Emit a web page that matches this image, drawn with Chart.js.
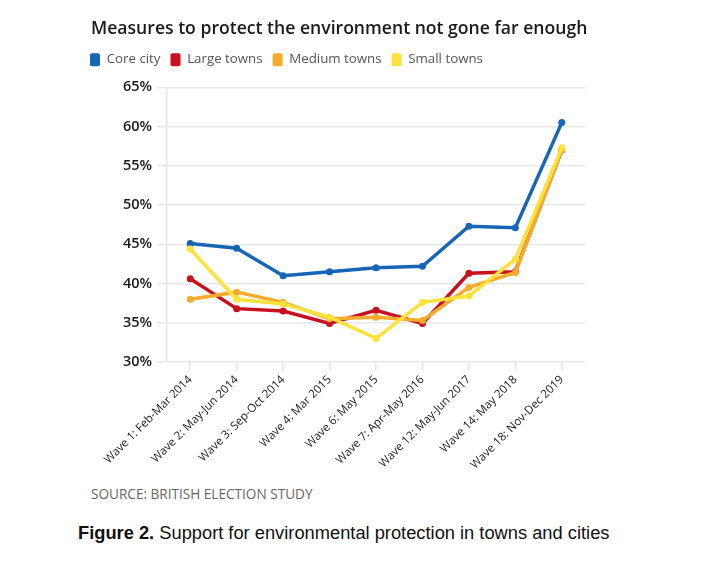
<!DOCTYPE html>
<html>
<head>
<meta charset="utf-8">
<script src="https://cdn.jsdelivr.net/npm/chart.js@4"></script>
<style>
  body { margin: 0; background: #fff; width: 720px; height: 567px; position: relative; overflow: hidden; }
  #wrap { position: absolute; left: 0; top: 0; width: 720px; height: 480px; }
  .title { position: absolute; left: 91px; top: 15px; font: 600 17.6px "Open Sans", sans-serif; color: #1a1a1a; white-space: nowrap; }
  .source { position: absolute; left: 91px; top: 484px; font: 13.6px "Open Sans", sans-serif; color: #666; white-space: nowrap; }
  .caption { position: absolute; left: 78px; top: 522px; font: 18.3px "Liberation Sans", Arial, sans-serif; color: #111; white-space: nowrap; }
</style>
</head>
<body>
<div id="wrap"><canvas id="chart"></canvas></div>
<div class="title">Measures to protect the environment not gone far enough</div>
<div class="source">SOURCE: BRITISH ELECTION STUDY</div>
<div class="caption"><b>Figure 2.</b> Support for environmental protection in towns and cities</div>
<script>
// survey waves
const waves = ['Wave 1: Feb-Mar 2014', 'Wave 2: May-Jun 2014', 'Wave 3: Sep-Oct 2014', 'Wave 4: Mar 2015',
    'Wave 6: May 2015', 'Wave 7: Apr-May 2016', 'Wave 12: May-Jun 2017', 'Wave 14: May 2018', 'Wave 18: Nov-Dec 2019'];

// % saying measures have not gone far enough
const coreCity = [45.1, 44.5, 41.0, 41.5, 42.0, 42.2, 47.3, 47.1, 60.5];
const largeTowns = [40.6, 36.8, 36.5, 34.9, 36.6, 34.9, 41.3, 41.5, 57.0];
const mediumTowns = [38.0, 38.9, 37.6, 35.5, 35.7, 35.3, 39.5, 41.4, 57.0];
const smallTowns = [44.4, 38.0, 37.4, 35.7, 33.0, 37.6, 38.4, 43.1, 57.3];

const yTicks = [30, 35, 40, 45, 50, 55, 60, 65];

function series(label, data, color, order) {
    return {
        label: label,
        data: data,
        borderColor: color,
        backgroundColor: color,
        borderWidth: 3.5,
        pointRadius: 3.5,
        pointHoverRadius: 3.5,
        pointBackgroundColor: color,
        pointBorderWidth: 0,
        tension: 0,
        order: order
    };
}

// extra room under the legend
const legendGap = {
    id: 'legendGap',
    beforeInit(chart) {
        const fit = chart.legend.fit;
        chart.legend.fit = function() {
            fit.call(this);
            this.height += 11;
        };
    }
};

const ctx = document.getElementById('chart').getContext('2d');
new Chart(ctx, {
    type: 'line',
    data: {
        labels: waves,
        datasets: [
            series('Core city', coreCity, '#1766b5', 4),
            series('Large towns', largeTowns, '#c8101f', 3),
            series('Medium towns', mediumTowns, '#f7ab2c', 2),
            series('Small towns', smallTowns, '#fde23c', 1)
        ]
    },
    options: {
        responsive: true,
        maintainAspectRatio: false,
        animation: false,
        layout: { padding: { left: 80, right: 135, top: 43, bottom: 8 } },
        plugins: {
            title: { display: false },
            tooltip: { enabled: false },
            legend: {
                position: 'top',
                align: 'start',
                labels: {
                    boxWidth: 10,
                    boxHeight: 13,
                    padding: 10,
                    color: '#555',
                    font: { family: '"Open Sans", sans-serif', size: 13.3 },
                    useBorderRadius: true,
                    borderRadius: 2,
                    sort: (a, b) => a.datasetIndex - b.datasetIndex,
                    generateLabels: chart => Chart.defaults.plugins.legend.labels.generateLabels(chart)
                        .map(l => Object.assign(l, { lineWidth: 0 }))
                }
            }
        },
        scales: {
            x: {
                offset: true,
                grid: { drawOnChartArea: false, drawTicks: true, tickLength: 9, color: '#e6e6e6', lineWidth: 1.5 },
                border: { display: false },
                ticks: {
                    minRotation: 45,
                    maxRotation: 45,
                    color: '#1a1a1a',
                    padding: 2,
                    font: { family: '"Open Sans", sans-serif', size: 11.5 }
                },
                afterFit: s => { s.height = 110; }
            },
            y: {
                min: 30,
                max: 65,
                afterBuildTicks: s => { s.ticks = yTicks.map(v => ({ value: v })); },
                grid: { color: '#e8e8e8', lineWidth: 1.5, tickLength: 10 },
                border: { display: true, color: '#e8e8e8', width: 1.5 },
                ticks: {
                    color: '#1a1a1a',
                    padding: 5,
                    font: { family: '"Open Sans", sans-serif', size: 14.5, weight: '600' },
                    callback: v => v + '%'
                },
                afterFit: s => { s.width = 87; }
            }
        }
    },
    plugins: [legendGap]
});
</script>
</body>
</html>
